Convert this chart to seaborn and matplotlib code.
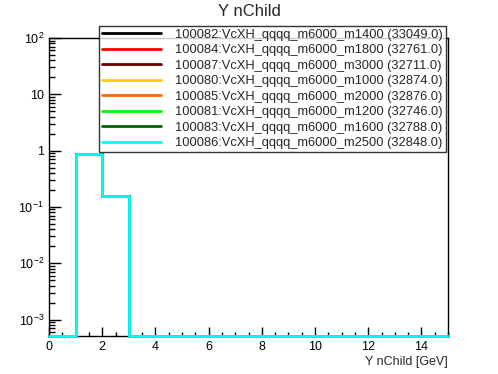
import numpy as np
import pandas as pd
import matplotlib
matplotlib.use("Agg")
import matplotlib.pyplot as plt
import matplotlib.ticker as mticker
import seaborn as sns

# histogram bins (Y nChild)
bin_edges = np.arange(0, 16, 1)
# normalised content per bin, same shape for every sample
bin_values = [0.0, 0.86, 0.157, 0, 0, 0, 0, 0, 0, 0, 0, 0, 0, 0, 0]

samples = [
    "100082:VcXH_qqqq_m6000_m1400 (33049.0)",
    "100084:VcXH_qqqq_m6000_m1800 (32761.0)",
    "100087:VcXH_qqqq_m6000_m3000 (32711.0)",
    "100080:VcXH_qqqq_m6000_m1000 (32874.0)",
    "100085:VcXH_qqqq_m6000_m2000 (32876.0)",
    "100081:VcXH_qqqq_m6000_m1200 (32746.0)",
    "100083:VcXH_qqqq_m6000_m1600 (32788.0)",
    "100086:VcXH_qqqq_m6000_m2500 (32848.0)",
]
colors = ["#000000", "#ff0000", "#660000", "#ffcc00",
          "#ff6600", "#00ff00", "#006600", "#00ffff"]

ymin, ymax = 5.1e-4, 1.0e2

sns.set_style("white")
plt.rcParams["font.family"] = ["Liberation Sans", "DejaVu Sans"]
plt.rcParams["mathtext.fontset"] = "custom"
plt.rcParams["mathtext.rm"] = "Liberation Sans"
plt.rcParams["mathtext.it"] = "Liberation Sans"
plt.rcParams["mathtext.default"] = "regular"

fig = plt.figure(figsize=(4.98, 3.74), dpi=100)
ax = fig.add_axes([49 / 498, 1 - 336 / 374, 399 / 498, 298 / 374])

# empty bins sit on the bottom of the log axis, like ROOT draws them
vals = np.array(bin_values, dtype=float)
vals = np.where(vals > 0, vals, ymin)
step_y = np.append(vals, vals[-1])

for name, col in zip(samples, colors):
    df = pd.DataFrame({"x": bin_edges, "y": step_y})
    sns.lineplot(data=df, x="x", y="y", ax=ax, color=col, lw=2,
                 drawstyle="steps-post", sort=False, label=name,
                 clip_on=False, zorder=3)

ax.set_yscale("log")
ax.set_xlim(0, 15)
ax.set_ylim(ymin, ymax)

def ylab(v, pos):
    e = int(round(np.log10(v)))
    if e == 0:
        return "1"
    if e == 1:
        return "10"
    return r"$10^{%d}$" % e

ax.yaxis.set_major_locator(mticker.LogLocator(base=10, numticks=10))
ax.yaxis.set_minor_locator(mticker.LogLocator(base=10, subs=np.arange(2, 10), numticks=20))
ax.yaxis.set_major_formatter(mticker.FuncFormatter(ylab))
ax.yaxis.set_minor_formatter(mticker.NullFormatter())
ax.xaxis.set_major_locator(mticker.MultipleLocator(2))
ax.xaxis.set_minor_locator(mticker.MultipleLocator(0.5))

ax.tick_params(axis="both", which="both", direction="in", labelsize=9,
               top=False, right=False, bottom=True, left=True, colors="black")
ax.tick_params(axis="y", which="major", length=8.6, width=1)
ax.tick_params(axis="y", which="minor", length=4.3, width=1)
ax.tick_params(axis="x", which="major", length=6.5, width=1)
ax.tick_params(axis="x", which="minor", length=3.2, width=1)

for sp in ax.spines.values():
    sp.set_color("black")
    sp.set_linewidth(1)

ax.set_ylabel("")
ax.set_xlabel("Y nChild [GeV]", loc="right", fontsize=9, labelpad=2)
fig.text(0.5, 0.99, "Y nChild", ha="center", va="top", fontsize=12)

leg = ax.legend(loc="upper left", bbox_to_anchor=(99 / 498, 1 - 26 / 374),
                bbox_transform=fig.transFigure, borderaxespad=0, frameon=True,
                fancybox=False, fontsize=9.3, handlelength=4.6, labelspacing=0.27,
                borderpad=0.2, handletextpad=1.1)
leg.get_frame().set_edgecolor("black")
leg.get_frame().set_linewidth(1)
for line in leg.get_lines():
    line.set_linewidth(2)

fig.savefig("out.png", dpi=100)
